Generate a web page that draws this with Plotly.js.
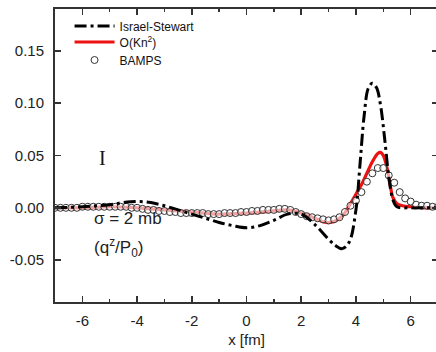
<!DOCTYPE html>
<html>
<head>
<meta charset="utf-8">
<script src="https://cdn.plot.ly/plotly-3.0.1.min.js"></script>
<style>
html,body{margin:0;padding:0;overflow:hidden;background:#fff;width:436px;height:352px;}
#chart{width:438px;height:352px;}
</style>
</head>
<body>
<div id="chart"></div>
<script>
// Israel-Stewart
const isX = [-7,-6,-5,-4.5,-4,-3.5,-3,-2.5,-2,-1.5,-1,-0.5,0,0.5,1,1.5,2,2.5,3,3.25,3.5,3.75,4,4.15,4.3,4.45,4.6,4.75,4.9,5.05,5.2,5.35,5.5,6,6.5,7];
const isY = [0,0.001,0.003,0.005,0.006,0.005,0.002,-0.002,-0.006,-0.010,-0.014,-0.017,-0.019,-0.017,-0.012,-0.006,-0.006,-0.016,-0.030,-0.036,-0.039,-0.033,-0.002,0.042,0.088,0.114,0.119,0.115,0.098,0.066,0.030,0.008,0.001,0,0,0];
// O(Kn^2)
const knX = [-7,-6,-5,-4,-3,-2,-1,0,1,1.5,2,2.5,2.9,3.2,3.5,3.8,4.0,4.2,4.4,4.6,4.8,4.9,5.0,5.13,5.25,5.35,5.5,5.7,6,6.5,7];
const knY = [0,0,0.001,0,-0.002,-0.004,-0.006,-0.005,-0.003,-0.002,-0.005,-0.010,-0.014,-0.013,-0.008,0.004,0.013,0.022,0.033,0.044,0.052,0.053,0.050,0.039,0.022,0.010,0.004,0.002,0.001,0,0];
// BAMPS
const bX = [-7.0,-6.8,-6.6,-6.4,-6.2,-6.0,-5.8,-5.6,-5.4,-5.2,-5.0,-4.8,-4.6,-4.4,-4.2,-4.0,-3.8,-3.6,-3.4,-3.2,-3.0,-2.8,-2.6,-2.4,-2.2,-2.0,-1.8,-1.6,-1.4,-1.2,-1.0,-0.8,-0.6,-0.4,-0.2,0.0,0.2,0.4,0.6,0.8,1.0,1.2,1.4,1.6,1.8,2.0,2.2,2.4,2.6,2.8,3.0,3.2,3.4,3.6,3.8,4.0,4.2,4.4,4.6,4.8,5.0,5.2,5.4,5.6,5.8,6.0,6.2,6.4,6.6,6.8,7.0];
const bY = [0,0,0,0,0,0.001,0.001,0.001,0.001,0.001,0.001,0.001,0.001,0.001,0,0,-0.001,-0.002,-0.002,-0.003,-0.003,-0.004,-0.004,-0.005,-0.005,-0.005,-0.005,-0.005,-0.006,-0.006,-0.006,-0.005,-0.005,-0.005,-0.004,-0.004,-0.003,-0.003,-0.002,-0.002,-0.002,-0.001,-0.001,-0.002,-0.004,-0.006,-0.008,-0.009,-0.010,-0.011,-0.012,-0.011,-0.009,-0.004,0.002,0.007,0.015,0.025,0.033,0.038,0.038,0.031,0.024,0.015,0.009,0.006,0.003,0.002,0.002,0.001,0.001];

const xTicks = [-6,-4,-2,0,2,4,6];
const yTicks = [-0.05,0,0.05,0.10,0.15];

const traces = [
  {x:knX, y:knY, mode:'lines', name:'O(Kn<sup>2</sup>)', line:{color:'#ee1111', width:3.2, shape:'spline'}, legend:'legend2'},
  {x:bX, y:bY, mode:'markers', name:'BAMPS', marker:{symbol:'circle', size:7, color:'rgba(255,255,255,0.6)', line:{color:'#333', width:1}}, legend:'legend3'},
  {x:isX, y:isY, mode:'lines', name:'Israel-Stewart', line:{color:'#000', width:3, dash:'12px,4px,3px,4px', shape:'spline'}, legend:'legend'}
];

const axisCommon = {
  showline:true, linewidth:2, linecolor:'#333', mirror:'ticks',
  ticks:'inside', ticklen:6, tickwidth:1.5, tickcolor:'#333',
  showgrid:false, zeroline:false,
  tickfont:{family:'Liberation Sans, Arial, sans-serif', size:15, color:'#222'}
};

function leg(rowY){
  return {x:0.038, y:(302-rowY)/293, xanchor:'left', yanchor:'middle', bgcolor:'rgba(0,0,0,0)',
          font:{family:'Liberation Sans, Arial, sans-serif', size:12, color:'#111'},
          itemwidth:40};
}

const layout = {
  width:438, height:352,
  margin:{l:55, r:0, t:9, b:50},
  paper_bgcolor:'#fff', plot_bgcolor:'#fff',
  showlegend:true,
  legend:leg(26), legend2:leg(42), legend3:leg(60),
  xaxis:Object.assign({}, axisCommon, {
    range:[-7,7], tickvals:xTicks, ticktext:xTicks.map(String),
    minor:{dtick:1, tick0:-7, ticks:'inside', ticklen:3, tickwidth:1.5, tickcolor:'#333'},
    ticklabelstandoff:4,
    title:{text:'x [fm]', font:{family:'Liberation Sans, Arial, sans-serif', size:15, color:'#222'}, standoff:6}
  }),
  yaxis:Object.assign({}, axisCommon, {
    range:[-0.09,0.19], tickvals:yTicks, ticktext:yTicks.map(v=>v.toFixed(2)),
    ticklabelstandoff:6
  }),
  annotations:[
    {xref:'paper', yref:'paper', x:(97-55)/383, y:(302-158)/293, text:'I', showarrow:false,
     font:{family:'Liberation Serif, Times New Roman, serif', size:20, color:'#111'}},
    {xref:'paper', yref:'paper', x:(92-55)/383, y:(302-230)/293, xanchor:'left', text:'σ = 2 mb', showarrow:false,
     font:{family:'Liberation Sans, Arial, sans-serif', size:17, color:'#222'}},
    {xref:'paper', yref:'paper', x:(92-55)/383, y:(302-262)/293, xanchor:'left', text:'(q<sup>z</sup>/P<sub>0</sub>)', showarrow:false,
     font:{family:'Liberation Sans, Arial, sans-serif', size:17, color:'#222'}}
  ]
};

Plotly.newPlot('chart', traces, layout, {displayModeBar:false, staticPlot:true});
</script>
</body>
</html>
